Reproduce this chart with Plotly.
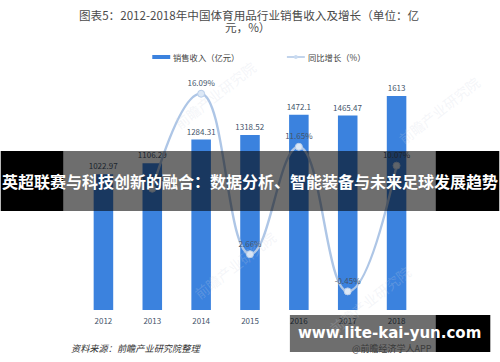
import plotly.graph_objects as go

years = ["2012", "2013", "2014", "2015", "2016", "2017", "2018"]
revenue = [1022.97, 1106.29, 1284.31, 1318.52, 1472.1, 1465.47, 1613]
growth = [None, 8.14, 16.09, 2.66, 11.65, -0.45, 10.07]

title_l1 = "图表5：2012-2018年中国体育用品行业销售收入及增长（单位：亿"
title_l2 = "元，%）"
legend_bar = "销售收入（亿元）"
legend_line = "同比增长（%）"
source_txt = "资料来源：前瞻产业研究院整理"
band_txt = "英超联赛与科技创新的融合：数据分析、智能装备与未来足球发展趋势"
url_txt = "www.lite-kai-yun.com"
app_txt = "@前瞻经济学人APP"

BAR_C = "#3b82de"
LINE_C = "#aec6e6"
LABEL_C = "#44546a"
FONT = "Noto Sans CJK SC"

W, H = 500, 362
L, R, T, B = 78.5, 78.5, 70, 52
PW, PH = W - L - R, H - T - B

def px(x):
    return (x - L) / PW

def py(y):
    return (H - B - y) / PH

fig = go.Figure()
fig.add_trace(go.Bar(
    x=years, y=revenue, marker_color=BAR_C, marker_line_width=0,
    text=[f"{v:g}" for v in revenue], textposition="outside", cliponaxis=False,
    constraintext="none",
    textfont=dict(size=8, color=LABEL_C, family=FONT), showlegend=False,
))
fig.add_trace(go.Scatter(
    x=years, y=growth, yaxis="y2", mode="lines+markers+text",
    line=dict(color=LINE_C, width=2.4, shape="spline", smoothing=1.3),
    marker=dict(size=7, color="#dce8f6", line=dict(color="#b8cde9", width=1)),
    text=[None if g is None else f"{g:.2f}%" for g in growth],
    textposition="top center", cliponaxis=False,
    textfont=dict(size=8, color=LABEL_C, family=FONT), showlegend=False,
))

fig.update_layout(
    width=W, height=H, margin=dict(l=L, r=R, t=T, b=B, pad=0),
    paper_bgcolor="white", plot_bgcolor="white",
    bargap=0.6, showlegend=False,
    font=dict(family=FONT),
    xaxis=dict(type="category", showgrid=False, zeroline=False, showline=False,
               ticks="", ticklabelstandoff=5,
               tickfont=dict(size=8, color=LABEL_C, family=FONT)),
    yaxis=dict(range=[0, PH / 0.1327], visible=False, showgrid=False, zeroline=False),
    yaxis2=dict(range=[-24 / 11.95, 216 / 11.95], overlaying="y", visible=False,
                showgrid=False, zeroline=False),
)

def note(x, y, text, size, color, family=FONT, xanchor="center", angle=0):
    return dict(x=px(x), y=py(y), xref="paper", yref="paper", text=text,
                xanchor=xanchor, yanchor="middle", showarrow=False, textangle=angle,
                font=dict(size=size, color=color, family=family))

ann = []
for (wx, wy) in [(215, 95), (235, 265), (440, 110), (370, 300)]:
    ann.append(note(wx, wy, "前瞻产业研究院", 14, "rgba(205,212,225,0.22)", angle=-38))
ann.append(note(249, 15, title_l1, 11.6, "#4a4a4a"))
ann.append(note(247, 27, title_l2, 11.6, "#4a4a4a"))
ann.append(note(171, 57, legend_bar, 8.3, "#444", xanchor="left"))
ann.append(note(306, 57, legend_line, 8.3, "#444", xanchor="left"))
ann.append(note(68, 348, f"<i>{source_txt}</i>", 9.2, "#333", xanchor="left"))
ann.append(note(350, 348, app_txt, 9, "#3a3a3a", xanchor="left"))
ann.append(note(250, 181, f"<b>{band_txt}</b>", 16, "white"))
ann.append(note(390, 333, f"<b>{url_txt}</b>", 15, "white", family="DejaVu Sans"))
fig.update_layout(annotations=ann)

shapes = []
shapes.append(dict(type="line", xref="paper", yref="paper", x0=px(152), x1=px(170),
                   y0=py(57), y1=py(57), line=dict(color=BAR_C, width=4)))
shapes.append(dict(type="line", xref="paper", yref="paper", x0=px(287), x1=px(305),
                   y0=py(57), y1=py(57), line=dict(color=LINE_C, width=1.5)))
shapes.append(dict(type="circle", xref="paper", yref="paper", x0=px(294), x1=px(298),
                   y0=py(55), y1=py(59), fillcolor="#c9dbf1", line=dict(width=0)))
shapes.append(dict(type="rect", xref="paper", yref="paper", x0=px(0), x1=px(63),
                   y0=py(211), y1=py(151), fillcolor="black", line=dict(width=0), layer="above"))
shapes.append(dict(type="rect", xref="paper", yref="paper", x0=px(63), x1=px(436),
                   y0=py(211), y1=py(151), fillcolor="rgba(0,0,0,0.57)", line=dict(width=0), layer="above"))
shapes.append(dict(type="rect", xref="paper", yref="paper", x0=px(436), x1=px(500),
                   y0=py(211), y1=py(151), fillcolor="black", line=dict(width=0), layer="above"))
shapes.append(dict(type="rect", xref="paper", yref="paper", x0=px(290), x1=px(436),
                   y0=py(352), y1=py(315), fillcolor="rgba(0,0,0,0.57)", line=dict(width=0), layer="above"))
shapes.append(dict(type="rect", xref="paper", yref="paper", x0=px(436), x1=px(491),
                   y0=py(352), y1=py(315), fillcolor="black", line=dict(width=0), layer="above"))
fig.update_layout(shapes=shapes)

fig.write_html("out.html")
